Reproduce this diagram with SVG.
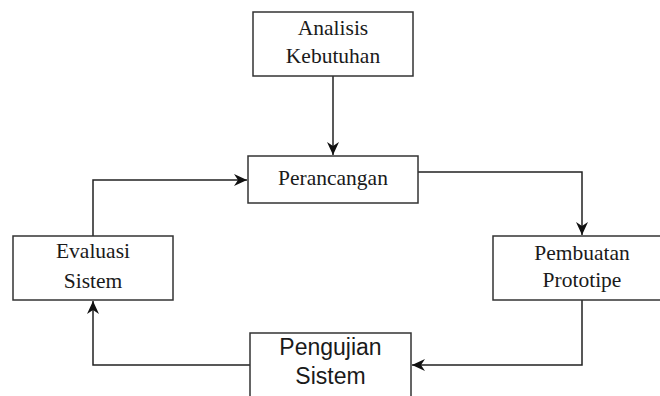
<svg xmlns="http://www.w3.org/2000/svg" width="660" height="396" viewBox="0 0 660 396">
  <style>
    .box { fill: #ffffff; stroke: #333333; stroke-width: 1.5; }
    .serif { font-family: "Liberation Serif", "Times New Roman", serif; font-size: 21.5px; fill: #1a1a1a; text-anchor: middle; }
    .sans { font-family: "Liberation Sans", Arial, sans-serif; font-size: 23px; fill: #1a1a1a; text-anchor: middle; }
    .conn { fill: none; stroke: #222222; stroke-width: 1.5; }
  </style>
  <defs>
    <marker id="arrow" markerUnits="userSpaceOnUse" markerWidth="15" markerHeight="13" viewBox="0 0 15 13" refX="13" refY="6.5" orient="auto">
      <path d="M0,0.5 L13,6.5 L0,12.5 L4,6.5 Z" fill="#111111"/>
    </marker>
  </defs>
  <rect width="660" height="396" fill="#ffffff"/>

  <g id="connectors">
    <path class="conn" d="M333,76 L333,155" marker-end="url(#arrow)"/>
    <path class="conn" d="M418,172 L582,172 L582,235" marker-end="url(#arrow)"/>
    <path class="conn" d="M582,300 L582,365 L412,365" marker-end="url(#arrow)"/>
    <path class="conn" d="M250,365 L93,365 L93,301" marker-end="url(#arrow)"/>
    <path class="conn" d="M93,236 L93,180 L247,180" marker-end="url(#arrow)"/>
  </g>

  <g id="analisis">
    <rect class="box" x="253" y="12" width="160" height="64"/>
    <text class="serif" x="333" y="35">Analisis</text>
    <text class="serif" x="333" y="63">Kebutuhan</text>
  </g>

  <g id="perancangan">
    <rect class="box" x="248" y="156" width="170" height="47"/>
    <text class="serif" x="333" y="185">Perancangan</text>
  </g>

  <g id="pembuatan">
    <rect class="box" x="493" y="236" width="178" height="64"/>
    <text class="serif" x="582" y="260">Pembuatan</text>
    <text class="serif" x="582" y="287">Prototipe</text>
  </g>

  <g id="pengujian">
    <rect class="box" x="250" y="333" width="161" height="70"/>
    <text class="sans" x="330.5" y="355">Pengujian</text>
    <text class="sans" x="330.5" y="384">Sistem</text>
  </g>

  <g id="evaluasi">
    <rect class="box" x="13" y="236" width="160" height="64"/>
    <text class="serif" x="93" y="258">Evaluasi</text>
    <text class="serif" x="93" y="288">Sistem</text>
  </g>
</svg>
